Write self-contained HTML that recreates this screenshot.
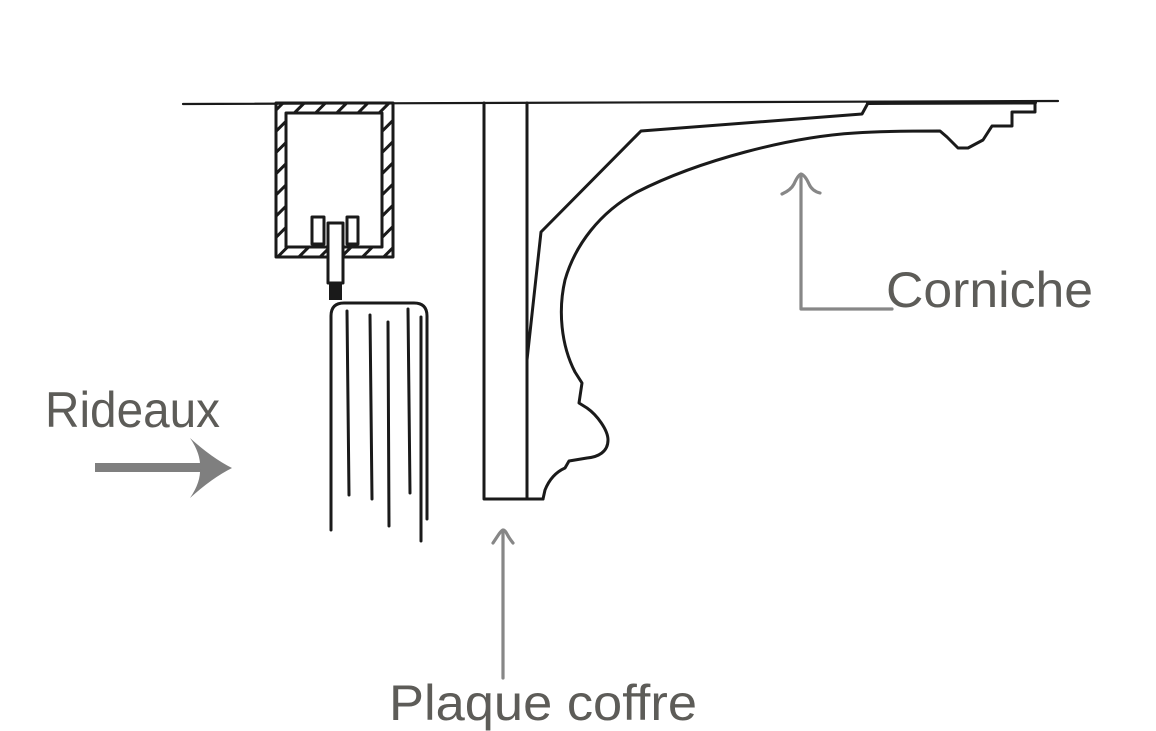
<!DOCTYPE html>
<html><head><meta charset="utf-8"><style>
html,body{margin:0;padding:0;background:#fff;}
svg{display:block;}
</style></head><body>
<svg width="1156" height="731" viewBox="0 0 1156 731" xmlns="http://www.w3.org/2000/svg">
<defs>
<pattern id="h" width="15" height="15" patternUnits="userSpaceOnUse" patternTransform="rotate(45)">
<line x1="3" y1="-1" x2="3" y2="16" stroke="#1a1a1a" stroke-width="3"/>
</pattern>
</defs>
<rect width="1156" height="731" fill="#fff"/>
<g fill="none" stroke="#1a1a1a" stroke-width="3" stroke-linejoin="round" stroke-linecap="round">
<!-- ceiling -->
<line x1="183" y1="104" x2="1058" y2="101" stroke-width="2.2"/>
<line x1="868" y1="103" x2="1035" y2="102.5" stroke-width="4"/>
<!-- box -->
<path d="M276,103 h117 v154 h-117 z M286,113 h96 v134 h-96 z" fill="url(#h)" fill-rule="evenodd" stroke="none"/>
<rect x="276" y="103" width="117" height="154" stroke-width="3"/>
<rect x="286" y="113" width="96" height="134"/>
<rect x="312" y="217" width="12" height="27" fill="#fff"/>
<rect x="347" y="217" width="11" height="27" fill="#fff"/>
<rect x="328" y="223" width="15" height="60" fill="#fff"/>
<rect x="329" y="283" width="13" height="17" fill="#1a1a1a" stroke="none"/>
<!-- curtain -->
<path d="M331,530 L331,316 Q331,303 344,303 L414,303 Q427,303 427,316 L427,519"/>
<line x1="347" y1="311" x2="349" y2="495"/>
<line x1="370" y1="315" x2="372" y2="499"/>
<line x1="388" y1="322" x2="389" y2="526"/>
<line x1="408" y1="309" x2="410" y2="493"/>
<line x1="421" y1="317" x2="421" y2="541"/>
<!-- plaque -->
<path d="M484,103 L484,499 L543,499"/>
<line x1="527" y1="103" x2="527" y2="499"/>
<!-- cornice upper -->
<path d="M868,103 L862,114 L641,131 L541,232 L527,360"/>
<!-- cornice inner -->
<path d="M1035,103 L1035,112 L1012,112 L1012,126 L992,126 L983,140 L968,148 L958,148 L947,137 L940,131 C900,131 870,132 855,133 C790,137 700,160 637,192 C600,212 575,245 565,280 C558,310 561,345 575,372 L582,383 L579,403 L587,408 C597,415 608,430 608,440 C608,452 598,457 587,458 L569,461 L565,468 C556,472 549,480 545,490 L543,499"/>
</g>
<!-- gray annotations -->
<g fill="none" stroke="#878787" stroke-width="3.2" stroke-linecap="round" stroke-linejoin="round">
<path d="M801,176 L801,309 L892,309"/>
<path d="M782,194 Q791,190 794,184 Q798,175 801,174 Q805,175 809,184 Q812,191 820,193"/>
<line x1="503" y1="533" x2="503" y2="678"/>
<path d="M493,543 Q497,537 499,534 Q502,530 503,530 Q505,530 507,534 Q509,538 513,543"/>
</g>
<!-- Rideaux arrow -->
<g fill="#7f7f7f">
<rect x="95" y="463" width="106" height="9"/>
<path d="M190,438 Q212,458 232,468 Q212,478 190,498 Q201,482 200,468 Q201,454 190,438 Z"/>
</g>
<!-- labels -->
<g font-family="'Liberation Sans', 'DejaVu Sans', sans-serif" font-size="50" fill="#5d5c58">
<text x="45" y="427" textLength="175" lengthAdjust="spacingAndGlyphs">Rideaux</text>
<text x="886" y="307" textLength="207" lengthAdjust="spacingAndGlyphs">Corniche</text>
<text x="389" y="720" textLength="308" lengthAdjust="spacingAndGlyphs">Plaque coffre</text>
</g>
</svg>
</body></html>
